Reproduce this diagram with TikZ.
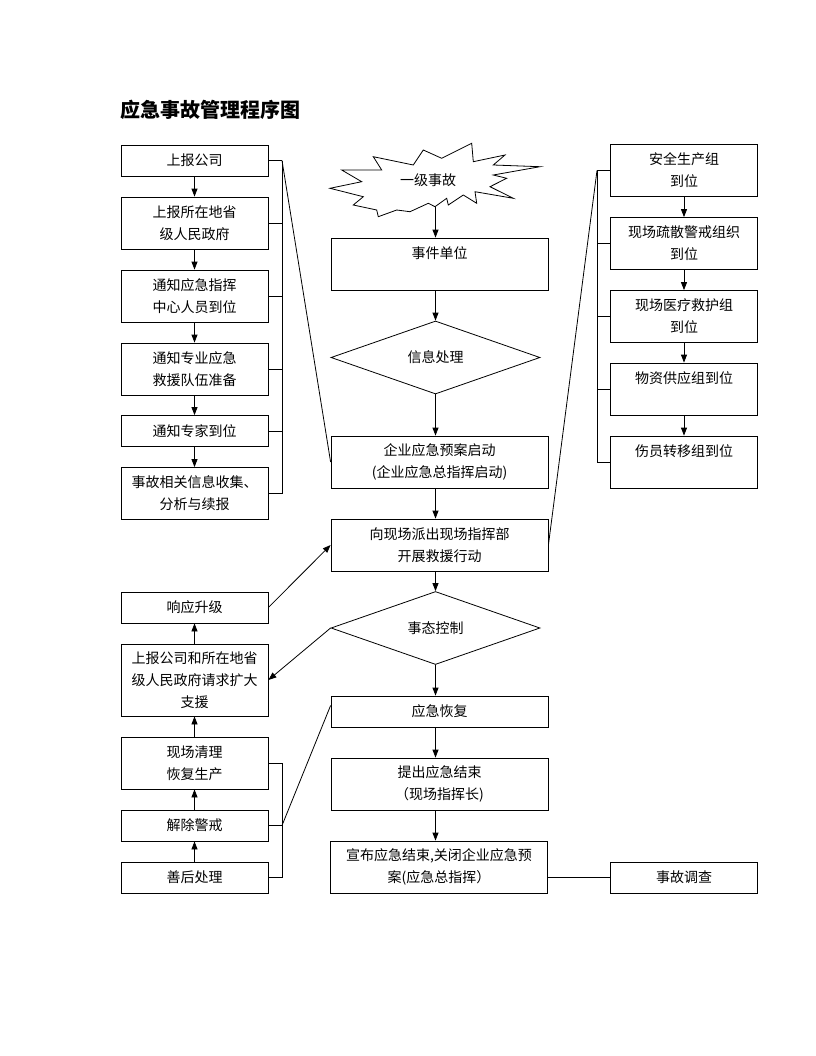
\documentclass[tikz,border=0pt]{standalone}
\usepackage{fontspec}
\newfontfamily\cjk{Noto Sans CJK SC}
\usetikzlibrary{arrows.meta,shapes.geometric}
\tikzset{
  txt/.style={font=\cjk\fontsize{10.5pt}{16.5pt}\selectfont, align=center, inner sep=0pt},
  box/.style={txt, draw, line width=0.6pt, minimum width=110.25pt},
  wbox/.style={box, minimum width=162.75pt},
  hs/.style={minimum height=23.25pt},
  hm/.style={minimum height=39pt},
  hl/.style={minimum height=54pt},
  dia/.style={txt, draw, line width=0.6pt, diamond, minimum width=156.75pt, minimum height=54.75pt},
  arr/.style={line width=0.6pt, -{Triangle[length=6pt,width=4.5pt]}},
  ln/.style={line width=0.6pt}
}
\begin{document}
\begin{tikzpicture}[x=0.75pt,y=-0.75pt]
\useasboundingbox[fill=white] (0,0) rectangle (816,1056);
% title
\node[anchor=west, inner sep=0pt, font=\cjk\bfseries\fontsize{15pt}{18pt}\selectfont] (title) at (120,110) {应急事故管理程序图};
% left column
\node[box,hs] (L1) at (194.5,160.5) {上报公司};
\node[box,hm] (L2) at (194.5,223) {上报所在地省\\级人民政府};
\node[box,hm] (L3) at (194.5,296) {通知应急指挥\\中心人员到位};
\node[box,hm] (L4) at (194.5,369) {通知专业应急\\救援队伍准备};
\node[box,hs] (L5) at (194.5,431) {通知专家到位};
\node[box,hm] (L6) at (194.5,493.5) {事故相关信息收集、\\分析与续报};
% right column
\node[box,hm] (R1) at (684,170.5) {安全生产组\\到位};
\node[box,hm] (R2) at (684,243.5) {现场疏散警戒组织\\到位};
\node[box,hm] (R3) at (684,316.5) {现场医疗救护组\\到位};
\node[box,hm] (R4) at (684,389) {物资供应组到位\\~};
\node[box,hm] (R5) at (684,462) {伤员转移组到位\\~};
% star
\draw[ln, fill=white] (373.3,156.7) -- (381.7,170) -- (341.7,170) -- (361.7,181.7) -- (330,188.3) -- (363.3,196.7) -- (353.3,205) -- (376.7,210) -- (378.3,216.7) -- (396.7,210) -- (410,211.7) -- (428.3,203.3) -- (435,206.7) -- (446.7,198.3) -- (448.3,205) -- (463.3,195) -- (476.7,203.3) -- (475,191.7) -- (513.3,198.3) -- (490,186.7) -- (506.7,178.3) -- (493.3,175) -- (540,166.7) -- (493.3,165) -- (505,155) -- (473.3,161.7) -- (471.7,143.3) -- (441.7,158.3) -- (423.3,150) -- (413.3,165) -- cycle;
\node[txt] (S) at (428,180) {一级事故};
\coordinate (sb) at (435.5,207);
% center column
\node[wbox,hm] (C1) at (439.5,264) {事件单位\\~};
\node[dia] (D1) at (435.5,357.5) {信息处理};
\node[wbox,hm] (C2) at (439.5,462) {企业应急预案启动\\(企业应急总指挥启动)};
\node[wbox,hm] (C3) at (439.5,545) {向现场派出现场指挥部\\开展救援行动};
\node[dia] (D2) at (435.5,628) {事态控制};
\node[wbox,hs] (C4) at (439.5,711.5) {应急恢复};
\node[wbox,hm] (C5) at (439.5,784) {提出应急结束\\（现场指挥长)};
\node[wbox,hm] (C6) at (439,867) {宣布应急结束,关闭企业应急预\\案(应急总指挥）};
\node[box,hs] (E) at (684,877.5) {事故调查};
% bottom left
\node[box,hs] (B1) at (194.5,607.5) {响应升级};
\node[box,hl] (B2) at (194.5,680) {上报公司和所在地省\\级人民政府请求扩大\\支援};
\node[box,hm] (B3) at (194.5,763) {现场清理\\恢复生产};
\node[box,hs] (B4) at (194.5,825.5) {解除警戒};
\node[box,hs] (B5) at (194.5,877.5) {善后处理};
% bracket x positions
\coordinate (bx) at (282,0);
\coordinate (rx) at (597,0);
% left arrows
\draw[arr] (L1) -- (L2);
\draw[arr] (L2) -- (L3);
\draw[arr] (L3) -- (L4);
\draw[arr] (L4) -- (L5);
\draw[arr] (L5) -- (L6);
% left bracket
\foreach \n in {L1,L2,L3,L4,L5,L6} \draw[ln] (\n.east) -- (\n.east -| bx);
\draw[ln] (L1.east -| bx) -- (L6.east -| bx);
\draw[ln] (L1.east -| bx) -- (C2.west);
% right arrows
\draw[arr] (R1) -- (R2);
\draw[arr] (R2) -- (R3);
\draw[arr] (R3) -- (R4);
\draw[arr] (R4) -- (R5);
% right bracket
\foreach \n in {R1,R2,R3,R4,R5} \draw[ln] (\n.west) -- (\n.west -| rx);
\draw[ln] (R1.west -| rx) -- (R5.west -| rx);
\draw[ln] (R1.west -| rx) -- (C3.east);
% center arrows
\draw[arr] (sb) -- (C1.north -| D1);
\draw[arr] (C1.south -| D1) -- (D1.north);
\draw[arr] (D1.south) -- (C2.north -| D1);
\draw[arr] (C2.south -| D1) -- (C3.north -| D1);
\draw[arr] (C3.south -| D1) -- (D2.north);
\draw[arr] (D2.south) -- (C4.north -| D1);
\draw[arr] (C4.south -| D1) -- (C5.north -| D1);
\draw[arr] (C5.south -| D1) -- (C6.north -| D1);
\draw[ln] (C6.east |- E) -- (E.west);
% bottom left arrows
\draw[arr] (B1.east) -- (C3.west);
\draw[arr] (D2.west) -- (B2.east);
\draw[arr] (B5) -- (B4);
\draw[arr] (B4) -- (B3);
\draw[arr] (B3) -- (B2);
\draw[arr] (B2) -- (B1);
% bottom bracket
\foreach \n in {B3,B4,B5} \draw[ln] (\n.east) -- (\n.east -| bx);
\draw[ln] (B3.east -| bx) -- (B5.east -| bx);
\draw[ln] (B4.east -| bx) -- ([yshift=4.5pt]C4.west);
\end{tikzpicture}
\end{document}
